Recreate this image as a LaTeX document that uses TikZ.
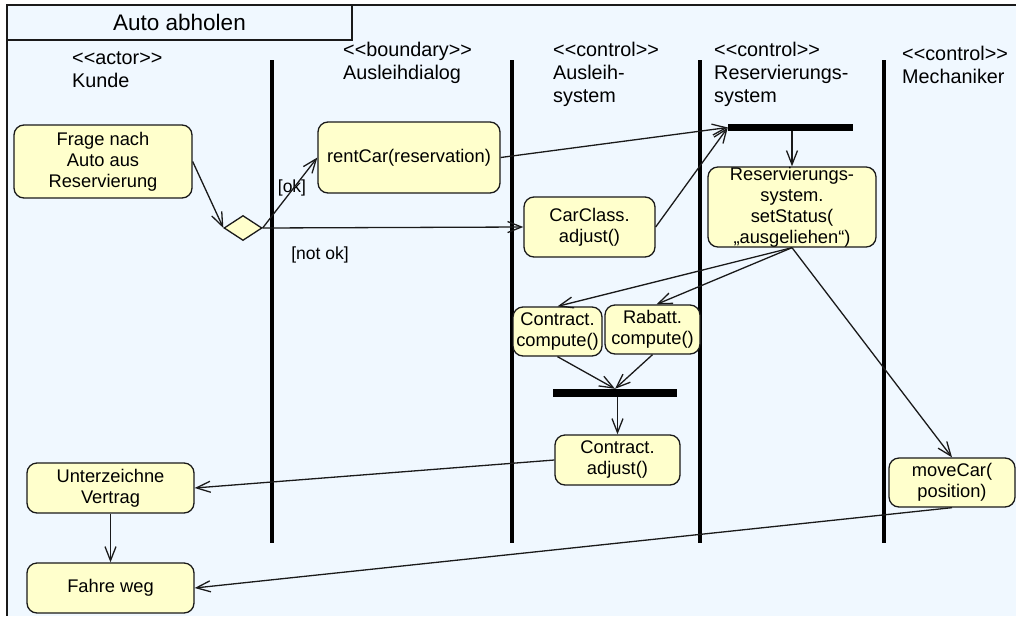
\documentclass[tikz,border=0pt]{standalone}
\usepackage{fontspec}
\newfontfamily\arial{Liberation Sans}
\usetikzlibrary{arrows.meta,shapes.geometric}
\definecolor{bgblue}{HTML}{F0F8FF}
\definecolor{actfill}{HTML}{FFFFCC}
\definecolor{edgecol}{HTML}{1A1A1A}
\begin{document}
\begin{tikzpicture}[x=1pt,y=-1pt,
  actbox/.style={draw=edgecol, line width=1.3pt, fill=actfill, rounded corners=10pt,
    align=center, inner sep=0pt, font=\arial\fontsize{18.3}{21}\selectfont},
  header/.style={anchor=base west, align=left, inner sep=0pt,
    font=\arial\fontsize{19.8}{23}\selectfont},
  guard/.style={inner sep=0pt, font=\arial\fontsize{17.5}{20}\selectfont},
  lifeline/.style={line width=3.6pt, black},
  bar/.style={fill=black, draw=none, inner sep=0pt},
  flow/.style={line width=1.3pt, edgecol, -{Straight Barb[length=14pt,width=11pt,line width=1.3pt]}},
  decision/.style={diamond, draw=edgecol, line width=1.3pt, fill=actfill, inner sep=0pt,
    minimum width=38pt, minimum height=25pt}
]
\useasboundingbox (0,0) rectangle (1016,616);
\fill[white] (0,0) rectangle (1016,616);
% frame
\fill[bgblue] (7,5) rectangle (1016,616);
\draw[line width=1.5pt, edgecol] (1016,5) -- (7,5) -- (7,616);
\node[draw=edgecol, line width=1.5pt, fill=bgblue, minimum width=345pt, minimum height=35pt,
  inner sep=0pt, font=\arial\fontsize{22.5}{26}\selectfont] (title) at (179.5,22.5) {Auto abholen};

% headers (anchored at the baseline of their last line)
\node[header] (hKunde) at (72,87) {<<actor>>\\Kunde};
\node[header] (hDialog) at (343,79) {<<boundary>>\\Ausleihdialog};
\node[header] (hAusleih) at (553,102) {<<control>>\\Ausleih-\\system};
\node[header] (hReserv) at (714,102) {<<control>>\\Reservierungs-\\system};
\node[header] (hMech) at (902,83) {<<control>>\\Mechaniker};

% lifelines
\coordinate (l1t) at (272,60); \coordinate (l1b) at (272,543);
\coordinate (l2t) at (512,60); \coordinate (l2b) at (512,543);
\coordinate (l3t) at (700,60); \coordinate (l3b) at (700,543);
\coordinate (l4t) at (884,60); \coordinate (l4b) at (884,543);
\draw[lifeline] (l1t) -- (l1b);
\draw[lifeline] (l2t) -- (l2b);
\draw[lifeline] (l3t) -- (l3b);
\draw[lifeline] (l4t) -- (l4b);

% activities
\node[actbox, minimum width=178pt, minimum height=73pt] (frage) at (103,161.5) {Frage nach\\Auto aus\\Reservierung};
\node[actbox, minimum width=182pt, minimum height=71pt] (rent) at (409,157.5) {rentCar(reservation)};
\node[decision] (dec) at (243,228) {};
\node[actbox, minimum width=131pt, minimum height=60pt] (carclass) at (589.5,227) {CarClass.\\adjust()};
\node[bar, minimum width=125pt, minimum height=7pt] (fork) at (790.5,127.5) {};
\node[actbox, minimum width=168pt, minimum height=80pt] (status) at (792,207) {Reservierungs-\\system.\\setStatus(\\„ausgeliehen“)};
\node[actbox, minimum width=89pt, minimum height=49pt] (ccompute) at (557.5,331.5) {Contract.\\compute()};
\node[actbox, minimum width=95pt, minimum height=49pt] (rcompute) at (652.5,329.5) {Rabatt.\\compute()};
\node[bar, minimum width=124pt, minimum height=8pt] (join) at (615,393) {};
\node[actbox, minimum width=125pt, minimum height=50pt] (cadjust) at (617.5,460) {Contract.\\adjust()};
\node[actbox, minimum width=167pt, minimum height=50pt] (unter) at (110.5,488) {Unterzeichne\\Vertrag};
\node[actbox, minimum width=167pt, minimum height=50pt] (fahre) at (110.5,588) {Fahre weg};
\node[actbox, minimum width=126pt, minimum height=49pt] (move) at (952,482.5) {moveCar(\\position)};

% guards
\node[guard] (gok) at (292,188) {[ok]};
\node[guard] (gnok) at (320,255) {[not ok]};

% flows
\draw[flow] (frage.east) -- (dec.west);
\draw[flow] (dec.east) -- (rent.west);
\draw[flow] (dec.east) -- (carclass.west);
\draw[flow] (rent.east) -- (fork.west);
\draw[flow] (carclass.east) -- (fork.west);
\draw[flow] (status.north |- fork.south) -- (status.north);
\draw[flow] (status.south) -- (ccompute.north);
\draw[flow] (status.south) -- ([xshift=4pt]rcompute.north);
\draw[flow] (status.south) -- (move.north);
\draw[flow] (ccompute.south) -- (join.north);
\draw[flow] (rcompute.south) -- (join.north);
\draw[flow] (cadjust.north |- join.south) -- (cadjust.north);
\draw[flow] (cadjust.west) -- (unter.east);
\draw[flow] (unter.south) -- (fahre.north);
\draw[flow] (move.south) -- (fahre.east);
\end{tikzpicture}
\end{document}
